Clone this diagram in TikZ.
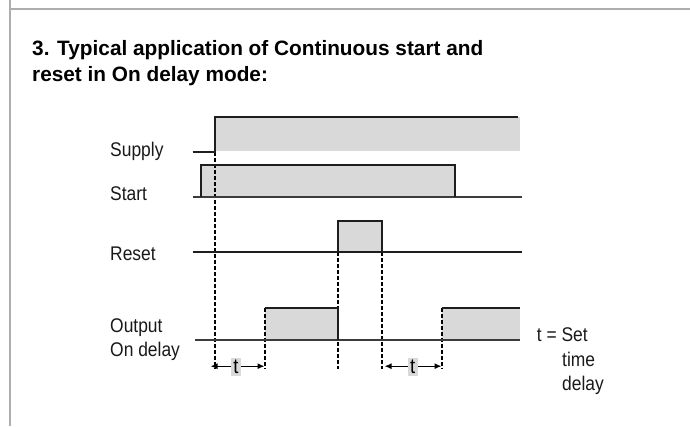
\documentclass[tikz,border=0pt]{standalone}
\usepackage{fontspec}
\setmainfont{Liberation Sans}
\newfontfamily\condfont[FakeStretch=0.88]{Liberation Sans}
\usetikzlibrary{arrows.meta}
\definecolor{fillgray}{HTML}{D9D9D9}
\definecolor{framegray}{HTML}{ADADAD}
\definecolor{sig}{HTML}{1E1E1E}
\definecolor{baseg}{HTML}{3C3C3C}
\begin{document}
\begin{tikzpicture}[x=1pt,y=-1pt,
  lbl/.style={font=\condfont\fontsize{19.8}{24}\selectfont, anchor=base west, inner sep=0pt, text=black!90},
  ttl/.style={font=\bfseries\fontsize{20.8}{26}\selectfont, anchor=base west, inner sep=0pt},
  sigline/.style={draw=sig, line width=1.8pt},
  baseline/.style={draw=baseg, line width=1.8pt},
  pulsefill/.style={fill=fillgray},
  dashline/.style={draw=black, line width=1.8pt, dash pattern=on 4pt off 2pt},
  tlabel/.style={fill=fillgray, font=\condfont\fontsize{21}{24}\selectfont, inner sep=0pt, minimum width=10pt, minimum height=18pt},
  tarrow/.style={-{Latex[length=7pt,width=6pt]}, line width=1.3pt}
]
\useasboundingbox (0,0) rectangle (690,426);
% frame
\draw[framegray, line width=1.9pt] (9.7,0) -- (9.7,426);
\draw[framegray, line width=1.9pt] (9.7,9) -- (690,9);
% title
\node[ttl] (title1) at (32,55.7) {3. Typical application of Continuous start and};
\node[ttl] (title2) at (32,81.5) {reset in On delay mode:};
% labels
\node[lbl] (supply) at (110,156.7) {Supply};
\node[lbl] (start) at (110,200.7) {Start};
\node[lbl] (reset) at (110,260) {Reset};
\node[lbl] (output) at (110,332.7) {Output};
\node[lbl] (ondelay) at (110,356.7) {On delay};
\node[lbl] (tset) at (536.7,341.7) {t = Set};
\node[lbl] (ttime) at (562,366.7) {time};
\node[lbl] (tdelay) at (562,390.3) {delay};
% fills
\fill[pulsefill] (215,116.7) rectangle (520,151);
\fill[pulsefill] (200.7,165) rectangle (455,196.7);
\fill[pulsefill] (337.7,220.7) rectangle (382.3,252.3);
\fill[pulsefill] (265,307.7) rectangle (337.7,340);
\fill[pulsefill] (441.7,307.7) rectangle (520,340);
% dashed markers
\coordinate (d1a) at (215,152);   \coordinate (d1b) at (215,368.5);
\coordinate (d2a) at (265,307.7); \coordinate (d2b) at (265,368.5);
\coordinate (d3a) at (337.7,252.3); \coordinate (d3b) at (337.7,368.5);
\coordinate (d4a) at (382.3,252.3); \coordinate (d4b) at (382.3,368.5);
\coordinate (d5a) at (441.7,307.7); \coordinate (d5b) at (441.7,368.5);
\draw[dashline] (d1a) -- (d1b);
\draw[dashline] (d2a) -- (d2b);
\draw[dashline] (d3a) -- (d3b);
\draw[dashline] (d4a) -- (d4b);
\draw[dashline] (d5a) -- (d5b);
% supply
\draw[sigline] (192.7,151.7) -- (215,151.7) -- (215,116.7) -- (518,116.7);
% start
\draw[baseline] (192.7,196.7) -- (521.7,196.7);
\draw[sigline] (200.7,196.7) -- (200.7,165) -- (455,165) -- (455,196.7);
% reset
\draw[sigline] (192.7,252.3) -- (521.7,252.3);
\draw[sigline] (337.7,252.3) -- (337.7,220.7) -- (382.3,220.7) -- (382.3,252.3);
% output
\draw[baseline] (195,340) -- (520,340);
\draw[sigline] (265,307.7) -- (337.7,307.7) -- (337.7,340);
\draw[sigline] (441.7,307.7) -- (520,307.7);
% time arrows
\node[tlabel] (t1) at (236,366.7) {t};
\node[tlabel] (t2) at (412.7,366.7) {t};
\coordinate (a1l) at (210.5,366.2); \coordinate (a1r) at (264.5,366.2);
\coordinate (a2l) at (384.5,366.2); \coordinate (a2r) at (441.5,366.2);
\draw[tarrow] (t1.west |- a1l) -- (a1l);
\draw[tarrow] (t1.east |- a1r) -- (a1r);
\draw[tarrow] (t2.west |- a2l) -- (a2l);
\draw[tarrow] (t2.east |- a2r) -- (a2r);
\end{tikzpicture}
\end{document}
